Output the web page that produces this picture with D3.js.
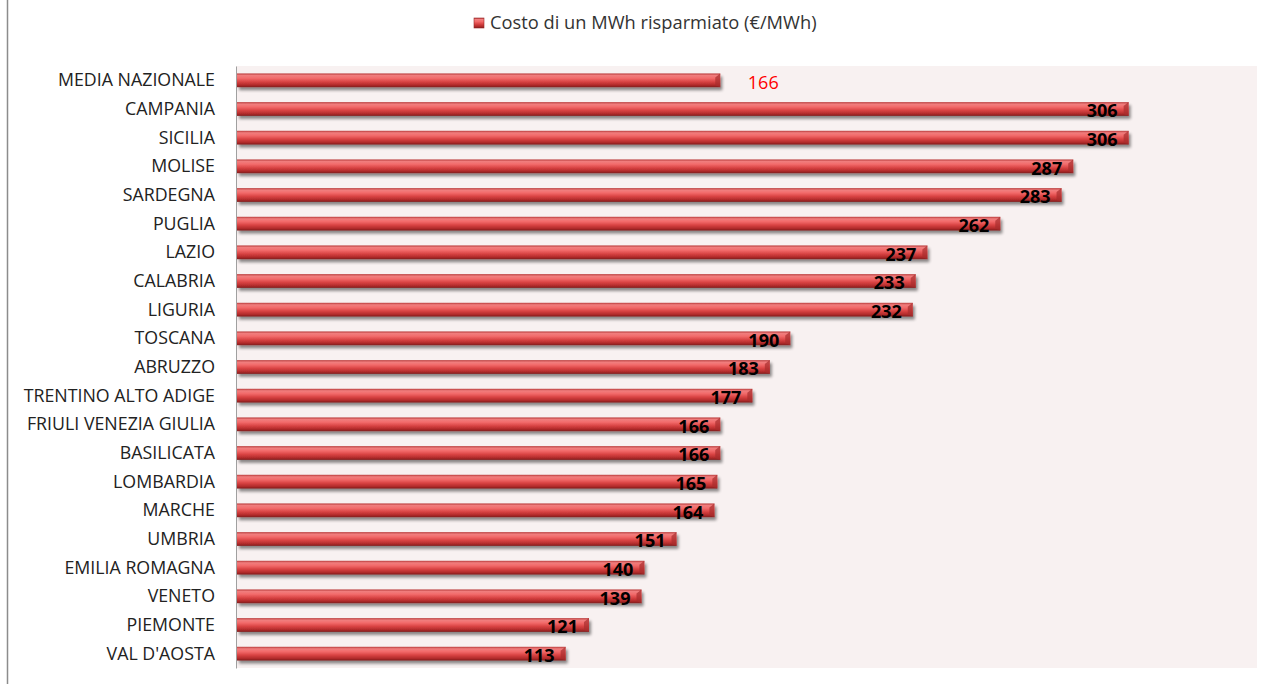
<!DOCTYPE html>
<html><head><meta charset="utf-8">
<script src="https://cdn.jsdelivr.net/npm/d3@7/dist/d3.min.js"></script>
<style>body{margin:0;background:#fff;}svg{display:block;}text{font-family:"Open Sans","Noto Sans",sans-serif;}</style>
</head><body>
<script>
const categories = ["MEDIA NAZIONALE","CAMPANIA","SICILIA","MOLISE","SARDEGNA","PUGLIA","LAZIO","CALABRIA","LIGURIA","TOSCANA","ABRUZZO","TRENTINO ALTO ADIGE","FRIULI VENEZIA GIULIA","BASILICATA","LOMBARDIA","MARCHE","UMBRIA","EMILIA ROMAGNA","VENETO","PIEMONTE","VAL D'AOSTA"];
const values = [166,306,306,287,283,262,237,233,232,190,183,177,166,166,165,164,151,140,139,121,113];
const seriesName = "Costo di un MWh risparmiato (€/MWh)";
const xDomain = [0, 350];

(function(){
const W = 1266, H = 684;
const svg = d3.select("body").append("svg").attr("width", W).attr("height", H);
const defs = svg.append("defs");
const g1 = defs.append("linearGradient").attr("id","barGrad").attr("x1",0).attr("y1",0).attr("x2",0).attr("y2",1);
[[0,"#b83a3a"],[0.15,"#f07d7d"],[0.35,"#f26a6a"],[0.6,"#d94444"],[0.85,"#b02a2a"],[1,"#7e1c1c"]].forEach(s=>g1.append("stop").attr("offset",s[0]).attr("stop-color",s[1]));
const f = defs.append("filter").attr("id","shadow").attr("x","-5%").attr("y","-50%").attr("width","110%").attr("height","250%");
f.append("feGaussianBlur").attr("in","SourceAlpha").attr("stdDeviation",1.6).attr("result","b");
f.append("feOffset").attr("in","b").attr("dx",2).attr("dy",3).attr("result","o");
f.append("feComponentTransfer").attr("in","o").attr("result","o2").append("feFuncA").attr("type","linear").attr("slope",0.45);
const fm = f.append("feMerge"); fm.append("feMergeNode").attr("in","o2"); fm.append("feMergeNode").attr("in","SourceGraphic");

svg.append("line").attr("x1",7.5).attr("x2",7.5).attr("y1",0).attr("y2",H).attr("stroke","#8c8c8c").attr("stroke-width",1.5);

const pL = 236, pR = 1257, pT = 66, pB = 668;
svg.append("rect").attr("x",pL).attr("y",pT).attr("width",pR-pL).attr("height",pB-pT).attr("fill","#f8f1f1");

const x = d3.scaleLinear().domain(xDomain).range([pL, pR]);
const y = d3.scaleBand().domain(categories).range([pT, pB]).paddingInner(0.52).paddingOuter(0.26);

const yAxis = svg.append("g").attr("transform",`translate(${pL},0)`).call(d3.axisLeft(y).tickSize(0).tickPadding(21));
yAxis.select(".domain").attr("stroke","#a0a0a0");
yAxis.selectAll("text").attr("font-size",17.8).attr("fill","#222").attr("dy","0.34em");

const bars = svg.append("g").selectAll("g").data(categories).join("g");
bars.append("rect")
  .attr("x", x(0)+1).attr("y", d=>y(d))
  .attr("width", (d,i)=>x(values[i])-x(0)-1).attr("height", y.bandwidth())
  .attr("fill","url(#barGrad)").attr("filter","url(#shadow)");
bars.append("path")
  .attr("d",(d,i)=>{const xe=x(values[i]), y0=y(d), h=y.bandwidth(); return `M${xe-5},${y0+4} L${xe},${y0} L${xe},${y0+h} L${xe-5},${y0+h-2} Z`;})
  .attr("fill","#a82e2e").attr("opacity",0.7);

svg.append("g").selectAll("text").data(categories).join("text")
  .attr("x",(d,i)=> i===0 ? x(values[i])+43 : x(values[i])-11)
  .attr("y",d=>y(d)+y.bandwidth()/2+2)
  .attr("dy","0.35em")
  .attr("text-anchor",(d,i)=> i===0 ? "middle" : "end")
  .attr("font-size",18)
  .attr("font-weight",(d,i)=> i===0 ? "normal" : "bold")
  .attr("fill",(d,i)=> i===0 ? "#ff0000" : "#000")
  .text((d,i)=>values[i]);

const lg = svg.append("g").attr("transform","translate(474,18)");
lg.append("rect").attr("x",0).attr("y",0).attr("width",10).attr("height",10).attr("fill","url(#barGrad)").attr("stroke","#9a2a2a").attr("stroke-width",0.6);
lg.append("text").attr("x",16).attr("y",5).attr("dy","0.35em").attr("font-size",18.3).attr("fill","#333").text(seriesName);
})();
</script>
</body></html>
